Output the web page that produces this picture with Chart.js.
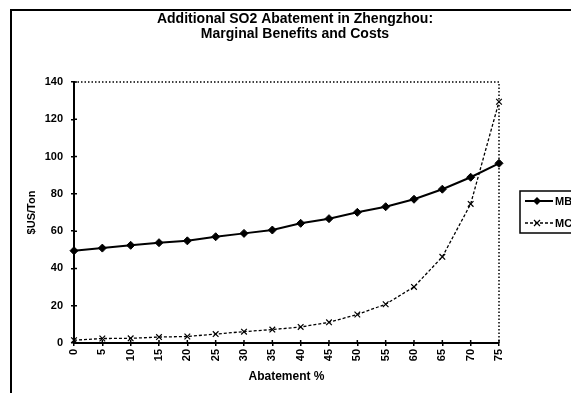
<!DOCTYPE html>
<html>
<head>
<meta charset="utf-8">
<script src="https://cdn.jsdelivr.net/npm/chart.js@4"></script>
<style>
  html, body { margin: 0; padding: 0; background: #fff; overflow: hidden; }
  #wrap { width: 571px; height: 393px; }
</style>
</head>
<body>
<div id="wrap"><canvas id="c" width="571" height="393"></canvas></div>
<script>
const abatement = ['0', '5', '10', '15', '20', '25', '30', '35', '40', '45', '50', '55', '60', '65', '70', '75'];
const mb = [49.5, 50.9, 52.4, 53.8, 54.8, 57, 58.8, 60.6, 64.2, 66.7, 70.1, 73.1, 77.1, 82.5, 88.9, 96.4];
const mc = [1.5, 2.4, 2.5, 3.2, 3.5, 4.8, 6.1, 7.2, 8.6, 11.1, 15.3, 20.8, 30.1, 46.2, 74.6, 129.4];
const yTicks = [0, 20, 40, 60, 80, 100, 120, 140];
const titleLines = ['Additional SO2 Abatement in Zhengzhou:', 'Marginal Benefits and Costs'];

const FONT = '"Liberation Sans", Arial, sans-serif';

// frame, title, dotted plot border, crossing tick marks and the legend
const decor = {
  id: 'decor',
  beforeDraw(chart) {
    const c = chart.ctx;
    c.save();
    c.fillStyle = '#fff';
    c.fillRect(0, 0, chart.width, chart.height);
    c.strokeStyle = '#000';
    c.lineWidth = 2;
    c.beginPath();
    c.moveTo(11, chart.height + 5);
    c.lineTo(11, 10);
    c.lineTo(chart.width + 5, 10);
    c.stroke();
    c.fillStyle = '#000';
    c.font = 'bold 14px ' + FONT;
    c.textAlign = 'center';
    c.textBaseline = 'middle';
    titleLines.forEach((t, i) => c.fillText(t, 295, 19 + i * 15));
    c.restore();
  },
  afterDatasetsDraw(chart) {
    const c = chart.ctx;
    const a = chart.chartArea;
    c.save();
    c.strokeStyle = '#000';
    c.lineWidth = 1.5;
    c.setLineDash([1.5, 2]);
    c.beginPath();
    c.moveTo(a.left, a.top);
    c.lineTo(a.right, a.top);
    c.lineTo(a.right, a.bottom);
    c.stroke();
    c.setLineDash([]);
    // inner half of tick marks
    const xs = chart.scales.x, ys = chart.scales.y;
    c.beginPath();
    xs.ticks.forEach((t, i) => {
      const px = xs.getPixelForTick(i);
      c.moveTo(px, a.bottom);
      c.lineTo(px, a.bottom - 3);
    });
    ys.ticks.forEach((t, i) => {
      const py = ys.getPixelForTick(i);
      c.moveTo(a.left, py);
      c.lineTo(a.left + 3, py);
    });
    c.stroke();

    // legend box
    c.lineWidth = 1.5;
    c.strokeRect(520, 191, 70, 42);
    chart.data.datasets.forEach((ds, i) => {
      const y = 201 + i * 22;
      c.strokeStyle = ds.borderColor;
      c.lineWidth = ds.borderWidth;
      c.setLineDash(ds.borderDash || []);
      c.beginPath();
      c.moveTo(525, y);
      c.lineTo(553, y);
      c.stroke();
      c.setLineDash([]);
      c.save();
      c.lineWidth = 1.2;
      if (ds.pointStyle === 'rectRot') {
        c.fillStyle = '#000';
        c.beginPath();
        c.moveTo(537, y - 4); c.lineTo(541, y); c.lineTo(537, y + 4); c.lineTo(533, y);
        c.closePath(); c.fill();
      } else {
        c.beginPath();
        c.moveTo(534, y - 3); c.lineTo(540, y + 3);
        c.moveTo(540, y - 3); c.lineTo(534, y + 3);
        c.stroke();
      }
      c.restore();
      c.fillStyle = '#000';
      c.font = 'bold 11px ' + FONT;
      c.textBaseline = 'middle';
      c.fillText(ds.label, 555, y + 1);
    });
    c.restore();
  }
};

new Chart(document.getElementById('c'), {
  type: 'line',
  data: {
    labels: abatement,
    datasets: [
      { label: 'MB', data: mb, borderColor: '#000', backgroundColor: '#000', borderWidth: 2,
        pointStyle: 'rectRot', pointRadius: 4, pointBorderWidth: 1, tension: 0 },
      { label: 'MC', data: mc, borderColor: '#000', backgroundColor: '#fff', borderWidth: 1.3,
        borderDash: [3, 2], pointStyle: 'crossRot', pointRadius: 4, pointBorderWidth: 1.2, tension: 0 }
    ]
  },
  options: {
    responsive: false,
    animation: false,
    layout: { padding: { left: 0, right: 72, top: 82, bottom: 0 } },
    plugins: {
      legend: { display: false },
      tooltip: { enabled: false },
      title: { display: false }
    },
    scales: {
      x: {
        type: 'category',
        offset: false,
        afterFit(s) { s.height = 50; },
        border: { color: '#000', width: 2 },
        grid: { display: true, drawOnChartArea: false, drawTicks: true, tickLength: 3, color: '#000', lineWidth: 1.5 },
        ticks: { color: '#000', font: { family: FONT, size: 11, weight: 'bold' }, maxRotation: 90, minRotation: 90, padding: 3, autoSkip: false },
        title: { display: true, text: 'Abatement %', color: '#000', font: { family: FONT, size: 12, weight: 'bold', lineHeight: 1.2 }, padding: { top: 0, bottom: 9 } }
      },
      y: {
        min: 0, max: 140,
        afterFit(s) { s.width = 74; },
        afterBuildTicks(s) { s.ticks = yTicks.map(v => ({ value: v })); },
        border: { color: '#000', width: 2 },
        grid: { display: true, drawOnChartArea: false, drawTicks: true, tickLength: 3, color: '#000', lineWidth: 1.5 },
        ticks: { color: '#000', font: { family: FONT, size: 11, weight: 'bold' }, padding: 8 },
        title: { display: true, text: '$US/Ton', color: '#000', font: { family: FONT, size: 11, weight: 'bold', lineHeight: 1.2 }, padding: { top: 25, bottom: 0 } }
      }
    }
  },
  plugins: [decor]
});
</script>
</body>
</html>
